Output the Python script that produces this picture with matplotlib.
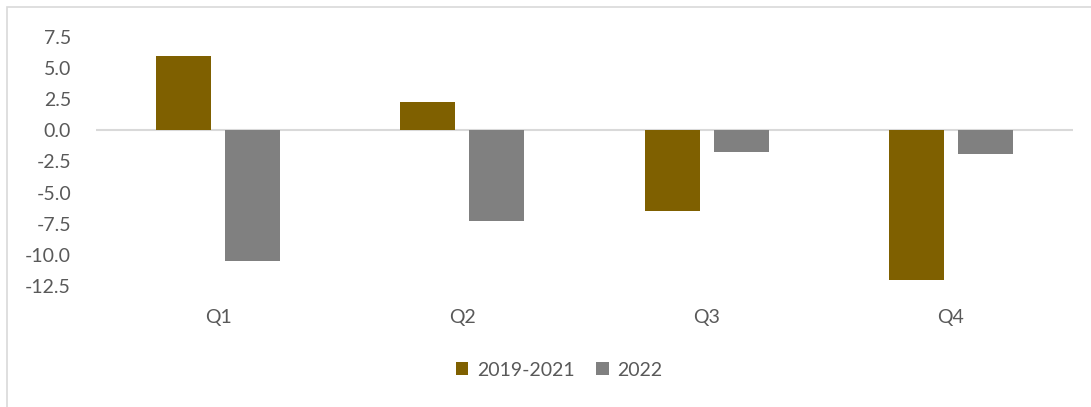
import matplotlib

matplotlib.use("Agg")
import matplotlib.pyplot as plt
import numpy as np
from matplotlib.patches import Rectangle

quarters = ["Q1", "Q2", "Q3", "Q4"]
base_vals = [6.0, 2.3, -6.5, -12.0]
vals_2022 = [-10.5, -7.3, -1.7, -1.9]
series_names = ["2019-2021", "2022"]
yticks = [7.5, 5.0, 2.5, 0.0, -2.5, -5.0, -7.5, -10.0, -12.5]

BROWN = "#7f6000"
GREY = "#808080"
TEXT = "#595959"

plt.rcParams["font.family"] = ["Lato", "DejaVu Sans"]

W, H = 1091, 407
fig = plt.figure(figsize=(W / 100, H / 100), dpi=100)
left, right, top, bottom = 96, 1073, 37, 286
ax = fig.add_axes([left / W, 1 - bottom / H, (right - left) / W, (bottom - top) / H])

x = np.arange(len(quarters))
w = 0.225
off = 0.141
ax.bar(x - off, base_vals, w, color=BROWN, label=series_names[0])
ax.bar(x + off, vals_2022, w, color=GREY, label=series_names[1])

ax.set_xlim(-0.5, len(quarters) - 0.5)
ax.set_ylim(-12.5, 7.5)
ax.axhline(0, color="#d9d9d9", lw=1.5, zorder=0)
for s in ax.spines.values():
    s.set_visible(False)
ax.set_yticks(yticks)
ax.set_yticklabels([f"{v:.1f}" for v in yticks], fontsize=14, color=TEXT)
ax.tick_params(axis="y", length=0, pad=18)
ax.set_xticks([])

# category labels sit well below the plot area, as in the source
for xi, q in zip(x, quarters):
    ax.annotate(q, (xi, 0), xycoords=("data", "axes fraction"),
                xytext=(0, -(318 - bottom)), textcoords="offset pixels",
                fontsize=14, color=TEXT, ha="center", va="center")

fig.legend(loc="center", bbox_to_anchor=(559 / W, 1 - 370 / H), ncol=2,
           frameon=False, fontsize=14, labelcolor=TEXT, handlelength=0.65,
           handleheight=0.65, columnspacing=1.1, handletextpad=0.45)

fig.patches.append(Rectangle((7 / W, -0.1), 1.2, 1 - 7 / H + 0.1,
                             transform=fig.transFigure, fill=False,
                             edgecolor="#d9d9d9", lw=1.2))

fig.savefig("out.png", dpi=100)
